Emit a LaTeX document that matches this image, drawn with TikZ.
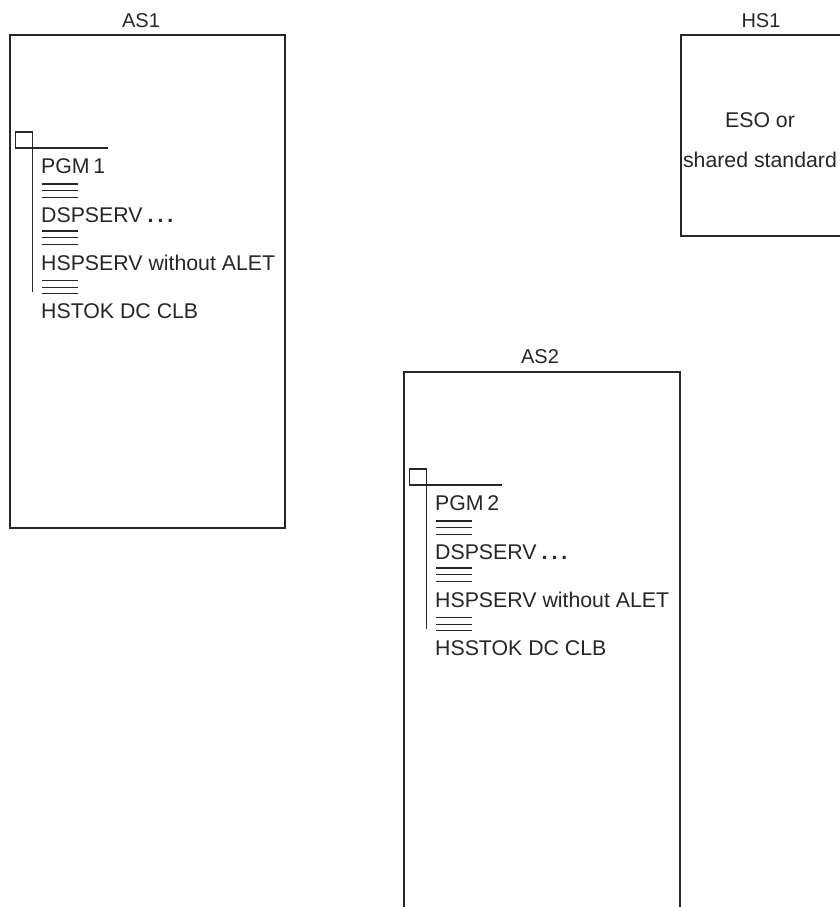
\documentclass[tikz,border=0pt]{standalone}
\usepackage{fontspec}
\setmainfont{Liberation Sans}
\begin{document}
\begin{tikzpicture}[x=1pt,y=-1pt,line join=miter,
  frame/.style={draw=black!85,line width=1.2pt},
  thin/.style={draw=black!85,line width=1.1pt},
  tri/.style={draw=black!85,line width=1.2pt},
  lbl/.style={inner sep=0pt,anchor=base west,font=\fontsize{21.3}{25}\selectfont,text=black!85},
  ttl/.style={inner sep=0pt,anchor=base,font=\fontsize{20}{24}\selectfont,text=black!85}]
\useasboundingbox (0,0) rectangle (840,907);

% AS1
\node[ttl] (t1) at (141,28) {AS1};
\draw[frame] (10,35) rectangle (285,528);
% HS1
\node[ttl] (t3) at (761,28) {HS1};
\draw[frame] (845,35) -- (681,35) -- (681,236) -- (845,236);
\node[lbl,anchor=base] (eso1) at (760,127) {ESO or};
\node[lbl,anchor=base] (eso2) at (760,167) {shared standard};
% AS2
\node[ttl] (t2) at (540,363) {AS2};
\draw[frame] (404,910) -- (404,372) -- (680,372) -- (680,910);

\foreach \dx/\dy/\pg/\tk/\n in {0/0/1/HSTOK/a, 394/337/2/HSSTOK/b}{
\begin{scope}[shift={(\dx,\dy)}]
  \draw[thin] (15.7,132) rectangle (32.3,148);
  \draw[thin] (32.3,148) -- (108,148);
  \draw[thin] (32.3,148) -- (32.3,292);
  \node[lbl] (pgm\n) at (41,173) {PGM\,\pg};
  \foreach \yy in {184,231,280.5}{
    \draw[tri] (42,\yy) -- (78,\yy) (42,\yy+6.6) -- (78,\yy+6.6) (42,\yy+13.2) -- (78,\yy+13.2);
  }
  \node[lbl] (dsp\n) at (41,222) {DSPSERV\hspace{5pt}\textbf{.\hspace{4pt}.\hspace{4pt}.}};
  \node[lbl] (hsp\n) at (41,270) {HSPSERV without ALET};
  \node[lbl] (tok\n) at (41,318) {\tk{} DC CLB};
\end{scope}
}
\end{tikzpicture}
\end{document}
